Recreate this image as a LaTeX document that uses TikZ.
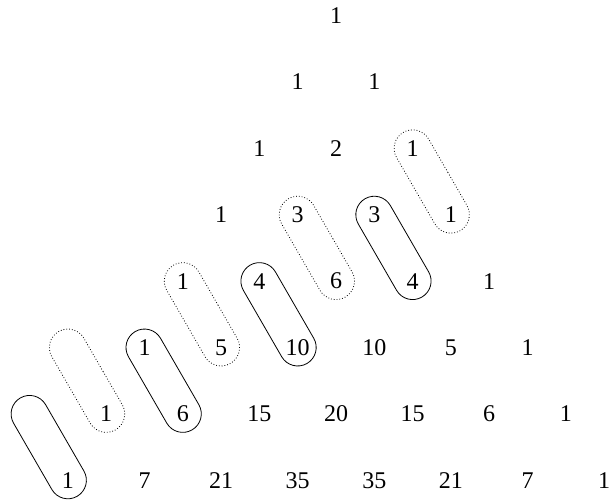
\documentclass[tikz,border=0pt]{standalone}
\usepackage{fontspec}
\setmainfont{Liberation Serif}
\usetikzlibrary{shapes.misc,calc}
\begin{document}
\begin{tikzpicture}[x=1pt,y=1pt,
  num/.style={inner sep=0pt, font=\fontsize{24}{28}\selectfont},
  pair/.style={draw, rounded rectangle, minimum width=113.6pt, minimum height=37pt, inner sep=0pt, rotate=-60, line width=0.8pt},
  dpair/.style={pair, dotted}]
\useasboundingbox (0,0) rectangle (610,-501);
\foreach \r/\vals in {0/{1},1/{1,1},2/{1,2,1},3/{1,3,3,1},4/{1,4,6,4,1},5/{1,5,10,10,5,1},6/{1,6,15,20,15,6,1},7/{1,7,21,35,35,21,7,1}} {
  \foreach \v [count=\i from 0] in \vals {
    \node[num] (n-\r-\i) at ({336+(2*\i-\r)*38.3},{-15.5-\r*66.4}) {\v};
  }
}
\coordinate (e5) at ({336+(-2-5)*38.3},{-15.5-5*66.4});
\coordinate (e6) at ({336+(-2-6)*38.3},{-15.5-6*66.4});
% solid pairs
\node[pair] (s1) at ($(e6)!0.5!(n-7-0)$) {};
\node[pair] (s2) at ($(n-5-0)!0.5!(n-6-1)$) {};
\node[pair] (s3) at ($(n-4-1)!0.5!(n-5-2)$) {};
\node[pair] (s4) at ($(n-3-2)!0.5!(n-4-3)$) {};
% dotted pairs
\node[dpair] (d1) at ($(e5)!0.5!(n-6-0)$) {};
\node[dpair] (d2) at ($(n-4-0)!0.5!(n-5-1)$) {};
\node[dpair] (d3) at ($(n-3-1)!0.5!(n-4-2)$) {};
\node[dpair] (d4) at ($(n-2-2)!0.5!(n-3-3)$) {};
\end{tikzpicture}
\end{document}
